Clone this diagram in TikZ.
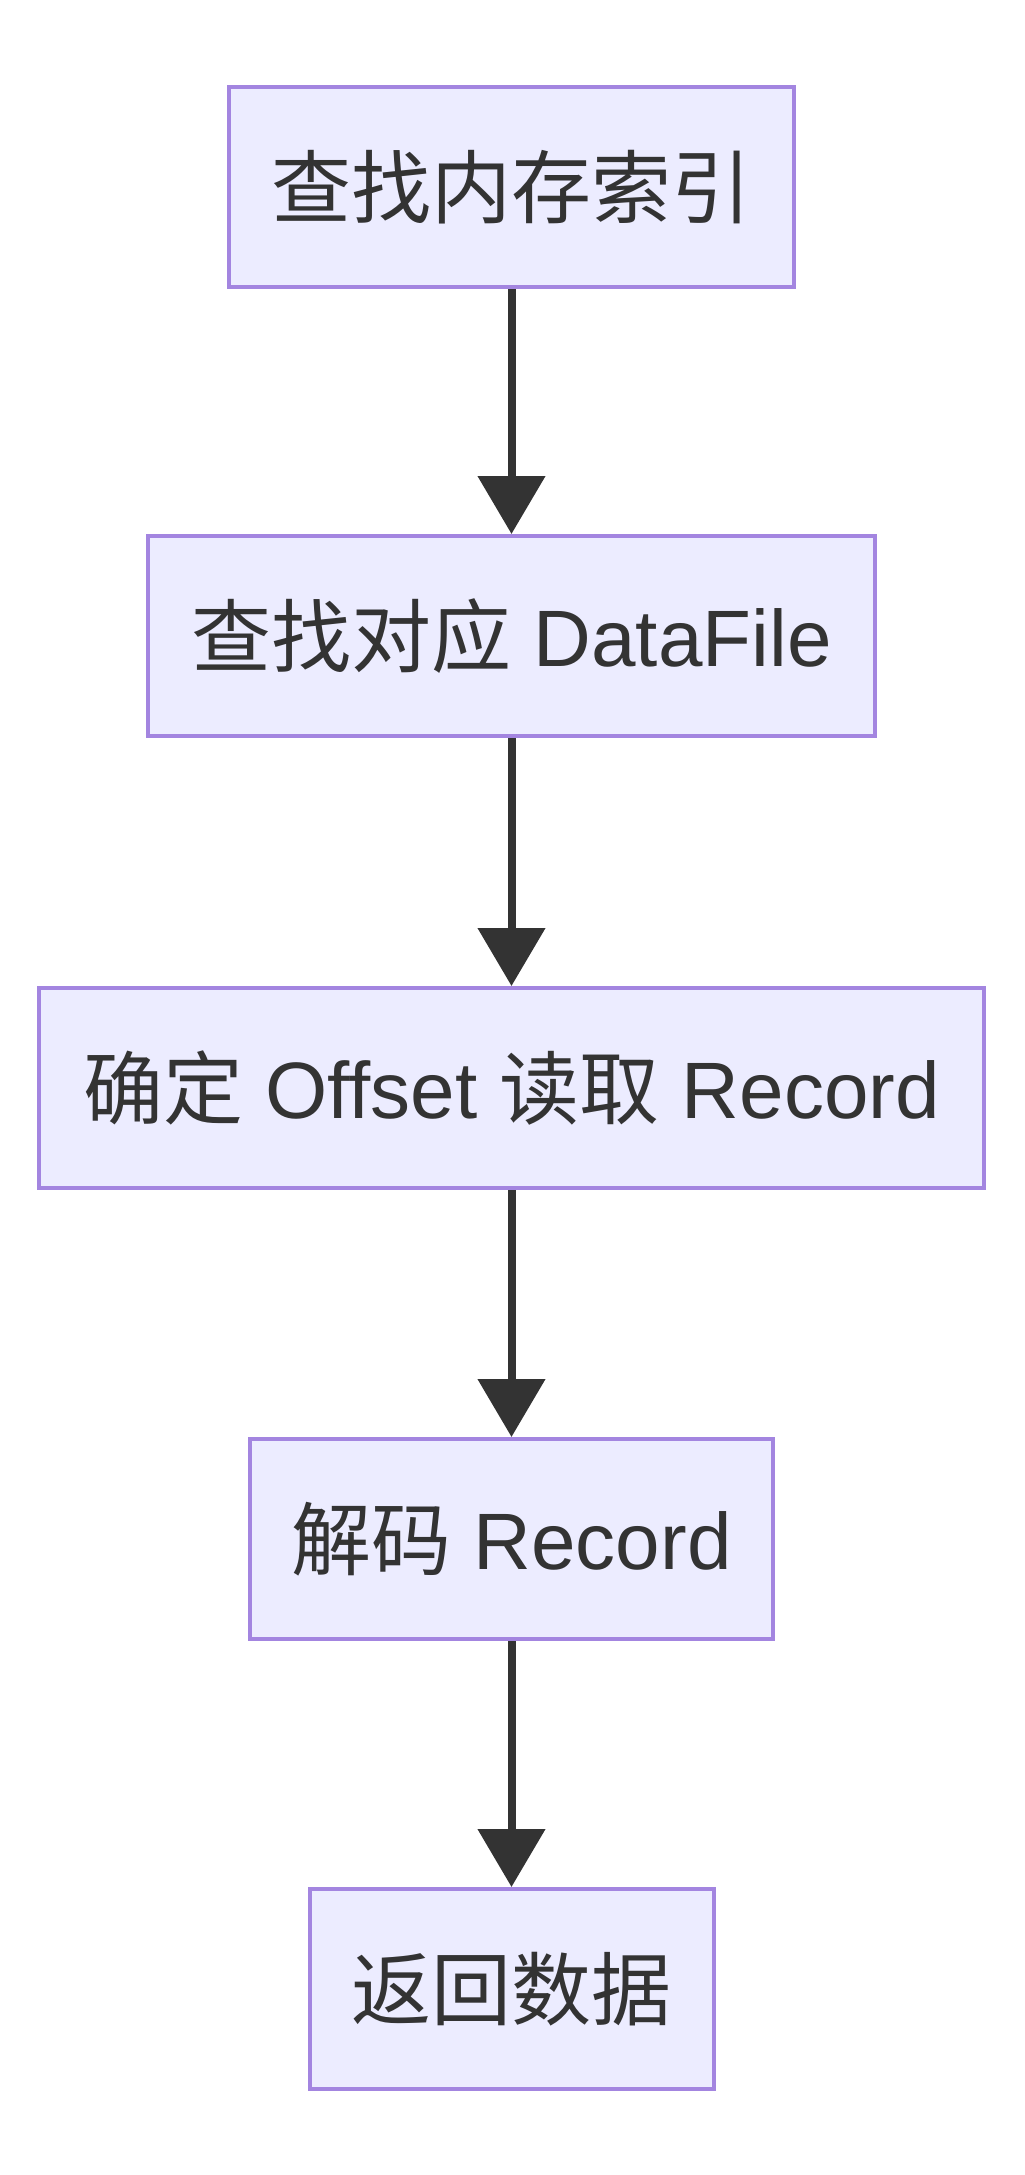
\documentclass[tikz,border=0pt]{standalone}
\usepackage{fontspec}
\setmainfont{Liberation Sans}
\newfontfamily\cjk{Noto Sans CJK SC}
\usetikzlibrary{arrows.meta}
\definecolor{nodefill}{HTML}{ECECFF}
\definecolor{nodeborder}{HTML}{9370DB}
\definecolor{ink}{HTML}{333333}
\tikzset{
  box/.style={draw=nodeborder!85!white, fill=nodefill, line width=2pt, rectangle,
    minimum height=100pt, inner sep=0pt, text=ink,
    font=\fontsize{40pt}{48pt}\selectfont},
  flow/.style={draw=ink, line width=4pt,
    -{Triangle[length=29pt,width=33pt]}}
}
\begin{document}
\begin{tikzpicture}[x=0.5pt,y=-0.5pt]
\useasboundingbox (0,0) rectangle (1024,2175);
\node[box, minimum width=282.5pt] (n1) at (511.5,187) {\cjk 查找内存索引};
\node[box, minimum width=363.5pt] (n2) at (511.5,636) {{\cjk 查找对应} DataFile};
\node[box, minimum width=472.5pt] (n3) at (511.5,1088) {{\cjk 确定} Offset {\cjk 读取} Record};
\node[box, minimum width=261.5pt] (n4) at (511.5,1539) {{\cjk 解码} Record};
\node[box, minimum width=202pt] (n5) at (511.5,1989) {\cjk 返回数据};
\draw[flow] (n1) -- (n2);
\draw[flow] (n2) -- (n3);
\draw[flow] (n3) -- (n4);
\draw[flow] (n4) -- (n5);
\end{tikzpicture}
\end{document}
